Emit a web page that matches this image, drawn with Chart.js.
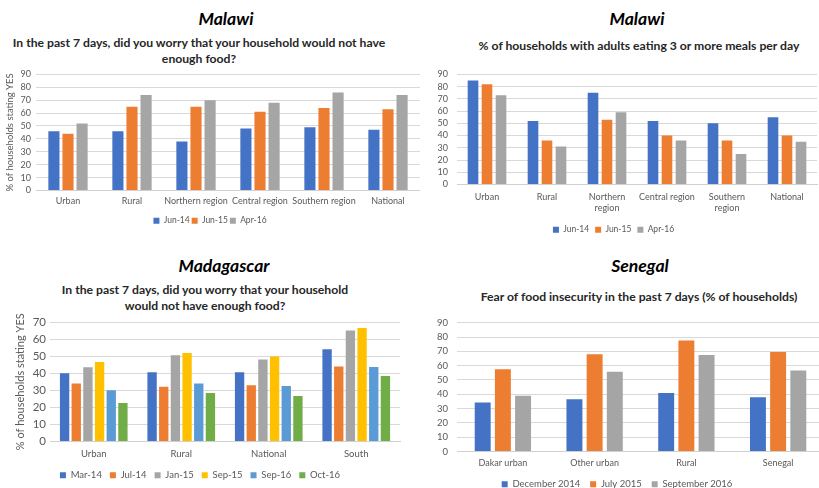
<!DOCTYPE html>
<html>
<head>
<meta charset="utf-8">
<script src="https://cdn.jsdelivr.net/npm/chart.js@4.4.0/dist/chart.umd.min.js"></script>
<style>
  body { margin: 0; background: #fff; width: 819px; height: 488px; overflow: hidden; position: relative; font-family: Lato, sans-serif; }
  .t { position: absolute; transform: translate(-50%, -50%); white-space: nowrap; text-align: center; }
  .country { font-weight: bold; font-style: italic; font-size: 17.6px; color: #000; }
  .q { font-weight: bold; font-size: 12.2px; color: #262626; line-height: 16px; }
  canvas { position: absolute; }
</style>
</head>
<body>
<div class="t country" style="left:226px;top:18px">Malawi</div>
<div class="t q" style="left:199px;top:51px">In the past 7 days, did you worry that your household would not have<br>enough food?</div>
<canvas id="worry" width="420" height="171" style="left:0;top:64px"></canvas>

<div class="t country" style="left:637px;top:18px">Malawi</div>
<div class="t q" style="left:639px;top:46px">% of households with adults eating 3 or more meals per day</div>
<canvas id="meals" width="409" height="184" style="left:410px;top:60px"></canvas>

<div class="t country" style="left:224px;top:265px">Madagascar</div>
<div class="t q" style="left:205px;top:298px">In the past 7 days, did you worry that your household<br>would not have enough food?</div>
<canvas id="mada" width="410" height="190" style="left:0;top:300px"></canvas>

<div class="t country" style="left:640px;top:265px">Senegal</div>
<div class="t q" style="left:639px;top:297px">Fear of food insecurity in the past 7 days (% of households)</div>
<canvas id="senegal" width="416" height="191" style="left:410px;top:308px"></canvas>

<script>
// colours (Office palette)
const BLUE = '#4472C4', ORANGE = '#ED7D31', GRAY = '#A5A5A5',
      YELLOW = '#FFC000', LBLUE = '#5B9BD5', GREEN = '#70AD47';

// Malawi - worry about food
const malawiRegions = ['Urban', 'Rural', 'Northern region', 'Central region', 'Southern region', 'National'];
const worryJun14 = [46, 46, 38, 48, 49, 47];
const worryJun15 = [44, 65, 65, 61, 64, 63];
const worryApr16 = [52, 74, 70, 68, 76, 74];

// Malawi - 3 or more meals
const mealsRegions = ['Urban', 'Rural', ['Northern', 'region'], 'Central region', ['Southern', 'region'], 'National'];
const mealsJun14 = [85, 52, 75, 52, 50, 55];
const mealsJun15 = [82, 36, 53, 40, 36, 40];
const mealsApr16 = [73, 31, 59, 36, 25, 35];

// Madagascar
const madaAreas = ['Urban', 'Rural', 'National', 'South'];
const madaMar14 = [40, 40.5, 40.5, 54];
const madaJul14 = [34, 32, 33, 44];
const madaJan15 = [43.5, 50.5, 48, 65];
const madaSep15 = [46.5, 51.8, 49.8, 66.5];
const madaSep16 = [30, 34, 32.5, 43.7];
const madaOct16 = [22.5, 28.4, 26.7, 38.4];

// Senegal
const senegalAreas = ['Dakar urban', 'Other urban', 'Rural', 'Senegal'];
const senDec14 = [34.3, 36.5, 40.8, 37.9];
const senJul15 = [57.5, 68, 77.6, 69.5];
const senSep16 = [39, 55.7, 67.4, 56.6];

Chart.defaults.font.family = 'Lato, sans-serif';
Chart.defaults.color = '#595959';
Chart.defaults.animation = false;

function makeChart(id, labels, sets, o) {
  return new Chart(document.getElementById(id), {
    type: 'bar',
    data: {
      labels: labels,
      datasets: sets.map(s => ({
        label: s[0], data: s[1], backgroundColor: s[2],
        categoryPercentage: o.cp, barPercentage: o.bp
      }))
    },
    options: {
      responsive: false,
      devicePixelRatio: 1,
      layout: { padding: { left: 0, right: o.padRight, top: o.padTop, bottom: 0 } },
      plugins: {
        tooltip: { enabled: false },
        legend: {
          position: 'bottom',
          labels: { boxWidth: 6, boxHeight: 6, padding: o.legendPad, font: { size: o.legendFont }, color: '#595959' }
        }
      },
      scales: {
        x: {
          grid: { display: false, drawTicks: false },
          border: { color: '#D0D0D0' },
          ticks: { padding: o.xPad, font: { size: o.xFont }, maxRotation: 0, autoSkip: false },
          afterFit: s => { s.height = o.xHeight; }
        },
        y: {
          min: 0, max: o.max,
          grid: { color: '#D9D9D9', drawTicks: false },
          border: { display: false },
          ticks: { stepSize: 10, autoSkip: false, padding: o.yPad, font: { size: o.yFont } },
          title: o.yTitle ? { display: true, text: '% of households stating YES', font: { size: o.yTitleFont }, padding: { top: o.yTitlePad, bottom: 0 } } : { display: false },
          afterFit: s => { s.width = o.left; }
        }
      }
    }
  });
}

makeChart('worry', malawiRegions, [
  ['Jun-14', worryJun14, BLUE], ['Jun-15', worryJun15, ORANGE], ['Apr-16', worryApr16, GRAY]
], { cp: 0.66, bp: 0.79, padRight: 0, padTop: 7, left: 36, max: 90, xPad: 5, xFont: 9, xHeight: 24,
     yPad: 5, yFont: 9, yTitle: true, yTitleFont: 9.5, yTitlePad: 4, legendPad: 2, legendFont: 8.5 });

makeChart('meals', mealsRegions, [
  ['Jun-14', mealsJun14, BLUE], ['Jun-15', mealsJun15, ORANGE], ['Apr-16', mealsApr16, GRAY]
], { cp: 0.7, bp: 0.76, padRight: 2, padTop: 7, left: 47, max: 90, xPad: 7, xFont: 9, xHeight: 35,
     yPad: 9, yFont: 9, yTitle: false, legendPad: 6, legendFont: 8.5 });

makeChart('mada', madaAreas, [
  ['Mar-14', madaMar14, BLUE], ['Jul-14', madaJul14, ORANGE], ['Jan-15', madaJan15, GRAY],
  ['Sep-15', madaSep15, YELLOW], ['Sep-16', madaSep16, LBLUE], ['Oct-16', madaOct16, GREEN]
], { cp: 0.8, bp: 0.8, padRight: 10, padTop: 22, left: 50, max: 70, xPad: 7, xFont: 9.5, xHeight: 21,
     yPad: 4, yFont: 11.5, yTitle: true, yTitleFont: 11, yTitlePad: 14, legendPad: 8, legendFont: 9.5 });

makeChart('senegal', senegalAreas, [
  ['December 2014', senDec14, BLUE], ['July 2015', senJul15, ORANGE], ['September 2016', senSep16, GRAY]
], { cp: 0.66, bp: 0.79, padRight: 2, padTop: 10, left: 47, max: 90, xPad: 6, xFont: 9, xHeight: 18,
     yPad: 9, yFont: 9.5, yTitle: false, legendPad: 10, legendFont: 9.5 });
</script>
</body>
</html>
